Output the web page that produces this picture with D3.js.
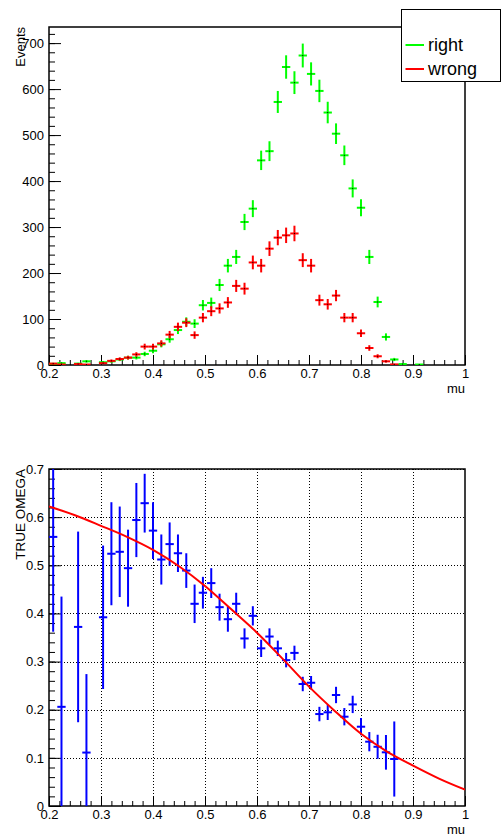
<!DOCTYPE html>
<html>
<head>
<meta charset="utf-8">
<script src="https://cdn.jsdelivr.net/npm/d3@7/dist/d3.min.js"></script>
<style>
  html, body { margin: 0; padding: 0; background: #fff; }
  svg { display: block; font-family: "Liberation Sans", Arial, Helvetica, sans-serif; }
</style>
</head>
<body>
<svg id="chart" width="502" height="835"></svg>
<script>
// ---- data ---------------------------------------------------------------
// bin centres in mu (bin width 0.016 over 0.2 .. 1.0)
const muBins = [
  0.208, 0.224, 0.240, 0.256, 0.272, 0.288, 0.304, 0.320, 0.336, 0.352,
  0.368, 0.384, 0.400, 0.416, 0.432, 0.448, 0.464, 0.480, 0.496, 0.512,
  0.528, 0.544, 0.560, 0.576, 0.592, 0.608, 0.624, 0.640, 0.656, 0.672,
  0.688, 0.704, 0.720, 0.736, 0.752, 0.768, 0.784, 0.800, 0.816, 0.832,
  0.848, 0.864, 0.880, 0.896, 0.912, 0.928, 0.944, 0.960, 0.976, 0.992
];
const binWidth = 0.016;

// events per bin, correctly tagged
const rightCounts = [
  2.5, 4, 0, 3, 8, 0, 6, 8, 12, 16,
  16, 24, 31, 45, 56, 76, 94, 90, 130, 135,
  174, 216, 235, 311, 340, 445, 465, 572, 648, 614,
  673, 633, 596, 549, 503, 456, 384, 342, 235, 137,
  61, 12, 2, 0, 1, 0, 0, 0, 0, 0
];
// events per bin, wrongly tagged
const wrongCounts = [
  3, 1, 0, 2, 1, 0, 4, 9, 13, 16,
  23, 40, 40, 47, 66, 83, 92, 65, 103, 117,
  123, 136, 172, 166, 223, 216, 253, 277, 282, 286,
  228, 216, 141, 132, 151, 103, 103, 69, 37, 19,
  8, 1.3, 0, 0, 0, 0, 0, 0, 0, 0
];

// mistag fraction per bin (null = no entry) and its uncertainty
const omegaValues = [
  0.559, 0.206, null, 0.372, 0.111, null, 0.392, 0.524, 0.528, 0.494,
  0.594, 0.629, 0.572, 0.512, 0.544, 0.525, 0.489, 0.420, 0.443, 0.463,
  0.413, 0.388, 0.420, 0.348, 0.395, 0.3275, 0.352, 0.3275, 0.303, 0.318,
  0.2534, 0.256, 0.191, 0.1946, 0.2306, 0.1855, 0.211, 0.1647, 0.1336, 0.123,
  0.1115, 0.0976, null, null, null, null, null, null, null, null
];
const omegaErrors = [
  0.197, 0.229, null, 0.198, 0.163, null, 0.149, 0.107, 0.094, 0.080,
  0.077, 0.061, 0.059, 0.052, 0.045, 0.039, 0.036, 0.040, 0.033, 0.031,
  0.028, 0.026, 0.023, 0.021, 0.020, 0.018, 0.017, 0.016, 0.015, 0.015,
  0.015, 0.014, 0.015, 0.016, 0.017, 0.018, 0.018, 0.018, 0.020, 0.025,
  0.036, 0.078, null, null, null, null, null, null, null, null
];

// fitted mistag curve
const fitMu    = [0.20, 0.25, 0.30, 0.35, 0.40, 0.45, 0.50, 0.55, 0.60, 0.65, 0.70, 0.75, 0.80, 0.85, 0.90, 0.95, 1.00];
const fitOmega = [0.622, 0.604, 0.582, 0.559, 0.532, 0.498, 0.457, 0.409, 0.360, 0.305, 0.248, 0.197, 0.150, 0.113, 0.084, 0.057, 0.034];

// axis ticks
const muTicks    = [0.2, 0.3, 0.4, 0.5, 0.6, 0.7, 0.8, 0.9, 1.0];
const eventTicks = [0, 100, 200, 300, 400, 500, 600, 700];
const omegaTicks = [0, 0.1, 0.2, 0.3, 0.4, 0.5, 0.6, 0.7];

const seriesNames  = ["right", "wrong"];
const seriesColors = ["#00ff00", "#ff0000"];

// ---- layout -------------------------------------------------------------
const svg = d3.select("#chart");
const frameL = 49, frameR = 465;
const top1 = 27, bottom1 = 365;
const top2 = 469, bottom2 = 806;
const fontSize = 13;

const x = d3.scaleLinear().domain([0.2, 1.0]).range([frameL, frameR]);
const yEv = d3.scaleLinear().domain([0, 735]).range([bottom1, top1]);
const yOm = d3.scaleLinear().domain([0, 0.7]).range([bottom2, top2]);

const fmt = d3.format("~g");
const muMinor = d3.range(0.2, 1.0001, 0.02).map(v => +v.toFixed(3));

function styleAxis(g) {
  g.select(".domain").remove();
  g.selectAll(".tick line").attr("stroke", "#000").attr("stroke-width", 1);
  g.selectAll("text").attr("font-size", fontSize).attr("fill", "#000")
    .attr("font-family", "Liberation Sans, Arial, sans-serif");
}

function drawAxes(y, yTicks, yMinor, top, bottom) {
  const h = bottom - top, w = frameR - frameL;
  const xTickLen = Math.round(0.03 * h), yTickLen = Math.round(0.03 * w);

  svg.append("g").attr("transform", `translate(0,${bottom})`)
    .call(d3.axisBottom(x).tickValues(muMinor).tickSize(-xTickLen / 2).tickFormat(""))
    .call(styleAxis);
  svg.append("g").attr("transform", `translate(0,${bottom})`)
    .call(d3.axisBottom(x).tickValues(muTicks).tickSize(-xTickLen).tickPadding(4).tickFormat(fmt))
    .call(styleAxis);

  svg.append("g").attr("transform", `translate(${frameL},0)`)
    .call(d3.axisLeft(y).tickValues(yMinor).tickSize(-yTickLen / 2).tickFormat(""))
    .call(styleAxis);
  svg.append("g").attr("transform", `translate(${frameL},0)`)
    .call(d3.axisLeft(y).tickValues(yTicks).tickSize(-yTickLen).tickPadding(5).tickFormat(fmt))
    .call(styleAxis);

  svg.append("rect")
    .attr("x", frameL).attr("y", top)
    .attr("width", w).attr("height", h)
    .attr("fill", "none").attr("stroke", "#000").attr("stroke-width", 1.5);

  svg.append("text")
    .attr("x", frameR).attr("y", bottom + 28)
    .attr("text-anchor", "end").attr("font-size", fontSize)
    .text("mu");
}

function clipRect(id, top, bottom) {
  svg.append("clipPath").attr("id", id).append("rect")
    .attr("x", frameL).attr("y", top)
    .attr("width", frameR - frameL).attr("height", bottom - top);
}

// draw a histogram-style cross: full bin width horizontally, +-err vertically
function drawCrosses(g, pts, y, color, withDot) {
  const sel = g.selectAll(null).data(pts).enter().append("g");
  sel.append("line")
    .attr("x1", d => x(d.mu)).attr("x2", d => x(d.mu))
    .attr("y1", d => y(d.v - d.e)).attr("y2", d => y(d.v + d.e))
    .attr("stroke", color).attr("stroke-width", 2);
  sel.append("line")
    .attr("x1", d => x(d.mu - binWidth / 2)).attr("x2", d => x(d.mu + binWidth / 2))
    .attr("y1", d => y(d.v)).attr("y2", d => y(d.v))
    .attr("stroke", color).attr("stroke-width", 2);
  if (withDot) {
    sel.append("rect")
      .attr("x", d => x(d.mu) - 0.5).attr("y", d => y(d.v) - 0.5)
      .attr("width", 1).attr("height", 1).attr("fill", "#000");
  }
}

// ---- upper pad: event counts -------------------------------------------
clipRect("clipTop", top1, bottom1);
drawAxes(yEv, eventTicks, d3.range(0, 721, 20), top1, bottom1);

const topData = g => g;
const gTop = svg.append("g").attr("clip-path", "url(#clipTop)");
[rightCounts, wrongCounts].forEach((counts, i) => {
  const pts = muBins.map((mu, k) => ({ mu, v: counts[k], e: Math.sqrt(counts[k]) }))
                    .filter(d => d.v > 0);
  drawCrosses(gTop, pts, yEv, seriesColors[i], true);
});

svg.append("text")
  .attr("transform", `translate(25,${top1}) rotate(-90)`)
  .attr("text-anchor", "end").attr("font-size", fontSize)
  .text("Events");

// legend
const legend = svg.append("g");
legend.append("rect")
  .attr("x", 401.5).attr("y", 9.5).attr("width", 99).attr("height", 72)
  .attr("fill", "#fff").attr("stroke", "#000").attr("stroke-width", 1);
seriesNames.forEach((name, i) => {
  const cy = 45 + i * 24;
  legend.append("line")
    .attr("x1", 405.5).attr("x2", 424).attr("y1", cy).attr("y2", cy)
    .attr("stroke", seriesColors[i]).attr("stroke-width", 2);
  legend.append("text")
    .attr("x", 428).attr("y", cy + 6.2)
    .attr("font-size", 18).attr("fill", "#000")
    .text(name);
});

// ---- lower pad: mistag fraction ----------------------------------------
clipRect("clipBot", top2, bottom2);

// dotted grid
const grid = svg.append("g").attr("stroke", "#000").attr("stroke-width", 1)
  .attr("stroke-dasharray", "1,2");
grid.selectAll(null).data(muTicks.slice(1, -1)).enter().append("line")
  .attr("x1", d => Math.round(x(d)) + 0.5).attr("x2", d => Math.round(x(d)) + 0.5)
  .attr("y1", top2).attr("y2", bottom2);
grid.selectAll(null).data(omegaTicks.slice(1)).enter().append("line")
  .attr("x1", frameL).attr("x2", frameR)
  .attr("y1", d => Math.round(yOm(d)) + 0.5).attr("y2", d => Math.round(yOm(d)) + 0.5);

drawAxes(yOm, omegaTicks, d3.range(0, 0.7001, 0.02).map(v => +v.toFixed(3)), top2, bottom2);

const gBot = svg.append("g").attr("clip-path", "url(#clipBot)");
const omegaPts = muBins.map((mu, k) => ({ mu, v: omegaValues[k], e: omegaErrors[k] }))
                       .filter(d => d.v !== null);
drawCrosses(gBot, omegaPts, yOm, "#0000ff", false);

gBot.append("path")
  .datum(fitMu.map((m, i) => [m, fitOmega[i]]))
  .attr("d", d3.line().x(d => x(d[0])).y(d => yOm(d[1])).curve(d3.curveMonotoneX))
  .attr("fill", "none").attr("stroke", "#ff0000").attr("stroke-width", 2);

svg.append("text")
  .attr("transform", `translate(25,${top2}) rotate(-90)`)
  .attr("text-anchor", "end").attr("font-size", 13.5)
  .text("TRUE OMEGA");
</script>
</body>
</html>
